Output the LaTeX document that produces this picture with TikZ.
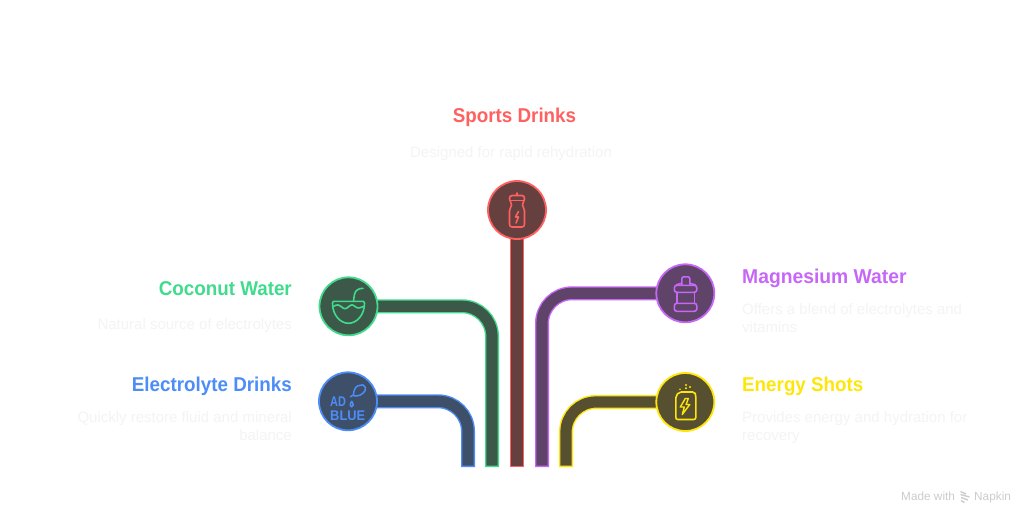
\documentclass[tikz,border=0pt]{standalone}
\usepackage{fontspec}
\setmainfont{Liberation Sans}
\newfontfamily\headfont[FakeStretch=0.94]{Liberation Sans}
\newfontfamily\magfont[FakeStretch=0.965]{Liberation Sans}
\newfontfamily\adfont[FakeStretch=0.78]{Liberation Sans}
\newfontfamily\bluefont[FakeStretch=0.92]{Liberation Sans}
\usetikzlibrary{backgrounds}
\definecolor{cred}{HTML}{FF6060}\definecolor{fred}{HTML}{66403F}
\definecolor{cgreen}{HTML}{41DB8D}\definecolor{fgreen}{HTML}{3C5849}
\definecolor{cblue}{HTML}{4D8DF7}\definecolor{fblue}{HTML}{3E4F69}
\definecolor{cpurple}{HTML}{C767F7}\definecolor{fpurple}{HTML}{5F4369}
\definecolor{cyellow}{HTML}{FFE60A}\definecolor{fyellow}{HTML}{575030}
\definecolor{cdesc}{HTML}{F4F4F4}\definecolor{cmark}{HTML}{CCCCCC}
\tikzset{
  hub/.style={circle,draw=#1,line width=1.8pt,minimum size=58pt,inner sep=0pt},
  pipeout/.style={draw=#1,line width=14pt,rounded corners=30pt},
  pipein/.style={draw=#1,line width=11.2pt,rounded corners=30pt},
  head/.style={text=#1,inner sep=0pt,font=\headfont\fontsize{20}{24}\selectfont\bfseries},
  desc/.style={text=cdesc,inner sep=0pt,font=\fontsize{15}{18}\selectfont},
  wmark/.style={text=cmark,inner sep=0pt,font=\fontsize{11.8}{14}\selectfont},
  icon/.style={draw=#1,line width=1.6pt,line cap=round,line join=round},
}
\begin{document}
\begin{tikzpicture}[x=1pt,y=-1pt]
\useasboundingbox (0,0) rectangle (1034,524);
% hubs
\node[hub=cred,fill=fred] (sports) at (517,210) {};
\node[hub=cgreen,fill=fgreen] (coco) at (348.5,306.3) {};
\node[hub=cblue,fill=fblue] (elec) at (348,401.3) {};
\node[hub=cpurple,fill=fpurple] (magn) at (685.3,293.3) {};
\node[hub=cyellow,fill=fyellow] (ener) at (685.3,402) {};
% free ends of the pipes
\coordinate (endS) at (517,467);\coordinate (innS) at (517,465.6);
\coordinate (endC) at (492,467);\coordinate (innC) at (492,465.6);
\coordinate (endE) at (468,467);\coordinate (innE) at (468,465.6);
\coordinate (endM) at (542,467);\coordinate (innM) at (542,465.6);
\coordinate (endY) at (566,467);\coordinate (innY) at (566,465.6);
\begin{scope}[on background layer]
\fill[white] (0,0) rectangle (1034,524);
\draw[pipeout=cred] (sports.center) -- (endS);
\draw[pipein=fred] (sports.center) -- (innS);
\draw[pipeout=cgreen] (coco.center) -| (endC);
\draw[pipein=fgreen] (coco.center) -| (innC);
\draw[pipeout=cblue] (elec.center) -| (endE);
\draw[pipein=fblue] (elec.center) -| (innE);
\draw[pipeout=cpurple] (magn.center) -| (endM);
\draw[pipein=fpurple] (magn.center) -| (innM);
\draw[pipeout=cyellow] (ener.center) -| (endY);
\draw[pipein=fyellow] (ener.center) -| (innY);
\end{scope}
% texts
\node[head=cred,anchor=base] (t1) at (514.5,123) {Sports Drinks};
\node[desc,anchor=base] (d1) at (511,157.5) {Designed for rapid rehydration};
\node[head=cgreen,anchor=base east] (t2) at (292,295) {Coconut Water};
\node[desc,anchor=base east] (d2) at (292,329.3) {Natural source of electrolytes};
\node[head=cblue,anchor=base east] (t3) at (292,391) {Electrolyte Drinks};
\node[desc,anchor=base east] (d3) at (292,422.5) {Quickly restore fluid and mineral};
\node[desc,anchor=base east] (d3b) at (292,440.5) {balance};
\node[head=cpurple,anchor=base west,font=\magfont\fontsize{20}{24}\selectfont\bfseries] (t4) at (742,283) {Magnesium Water};
\node[desc,anchor=base west] (d4) at (742,314.3) {Offers a blend of electrolytes and};
\node[desc,anchor=base west] (d4b) at (742,332.3) {vitamins};
\node[head=cyellow,anchor=base west] (t5) at (742,391) {Energy Shots};
\node[desc,anchor=base west] (d5) at (742,422.5) {Provides energy and hydration for};
\node[desc,anchor=base west] (d5b) at (742,440.5) {recovery};
% watermark
\node[wmark,anchor=base west] (m1) at (901,500.5) {Made with};
\node[wmark,anchor=base west] (m2) at (974,500.5) {Napkin};
\draw[cmark,line width=1.4pt] (960.5,491.5) -- (966,494) (960.5,494.5) -- (969.5,497) (961,497.5) -- (968,500) (961,500.5) -- (964.5,502.5);
% sports bottle
\begin{scope}[shift={(517,210)},icon=cred]
\draw (0,-17) -- (0,-14.5);
\draw (-5,-14.5) -- (5,-14.5) .. controls (7,-14.5) and (7.5,-13) .. (7.5,-11) .. controls (7.5,-9) and (5.5,-8) .. (5.5,-5) .. controls (5.5,-3) and (7.5,-2) .. (7.5,1) -- (7.5,14) .. controls (7.5,16) and (6.5,17) .. (5,17) -- (-5,17) .. controls (-6.5,17) and (-7.5,16) .. (-7.5,14) -- (-7.5,1) .. controls (-7.5,-2) and (-5.5,-3) .. (-5.5,-5) .. controls (-5.5,-8) and (-7.5,-9) .. (-7.5,-11) .. controls (-7.5,-13) and (-7,-14.5) .. (-5,-14.5) -- cycle;
\draw (-7,-9.5) -- (7,-9.5);
\draw (1.5,1.5) -- (-1.5,7) -- (1.5,7) -- (-1,13);
\end{scope}
% coconut
\begin{scope}[shift={(348.5,306.3)},icon=cgreen]
\draw (-16,-3) .. controls (-16,-5) and (-15,-5) .. (-13,-5) -- (13,-5) .. controls (15,-5) and (16,-5) .. (16,-3) .. controls (16,9) and (8,17) .. (0,17) .. controls (-8,17) and (-16,9) .. (-16,-3) -- cycle;
\draw (-15.5,0.5) .. controls (-12,-2) and (-10,-2) .. (-7,0.5) .. controls (-4,3) and (-3,3) .. (0,0.5) .. controls (3,-2) and (4,-2) .. (7,0.5) .. controls (10,3) and (12,1) .. (15.5,0);
\draw (5,-5.5) -- (6,-12) .. controls (7,-16) and (10,-18) .. (14.5,-18);
\end{scope}
% adblue
\begin{scope}[shift={(348,401.3)}]
\node[text=cblue,inner sep=0pt,anchor=base west,font=\adfont\fontsize{14}{14}\selectfont\bfseries] (ad) at (-18,5.5) {AD};
\node[text=cblue,inner sep=0pt,anchor=base west,font=\bluefont\fontsize{14}{14}\selectfont\bfseries] (blue) at (-18,18.8) {BLUE};
\draw[icon=cblue,line width=1.5pt] (3.7,0) .. controls (1.7,3) and (1.7,5.5) .. (3.7,5.5) .. controls (5.7,5.5) and (5.7,3) .. (3.7,0) -- cycle;
\draw[icon=cblue,line width=1.5pt] (2.5,-4.5) -- (5.5,-6.5) .. controls (5.5,-10) and (7,-14.5) .. (10,-15.5) -- (15,-16.5) .. controls (17.5,-15) and (18.5,-12.5) .. (17,-10.5) .. controls (15,-7) and (10,-4.5) .. (6,-5.5);
\end{scope}
% jug
\begin{scope}[shift={(685.3,293.3)},icon=cpurple]
\draw[rounded corners=2pt] (-3.5,-8.5) -- (-3.5,-16.5) -- (4.5,-16.5) -- (4.5,-8.5);
\draw[rounded corners=2pt] (-3.5,-10) -- (-9,-8.5) (4.5,-10) -- (10,-8.5);
\draw[rounded corners=2.5pt] (-11,-8) rectangle (11.5,-1);
\draw (-8.5,-1) -- (-8.5,10) (9,-1) -- (9,10);
\draw[rounded corners=2.5pt] (-11,10) rectangle (11.5,18);
\end{scope}
% can
\begin{scope}[shift={(685.3,402)},icon=cyellow]
\draw[rounded corners=2pt] (-6,-10) -- (9.5,-10) -- (10.5,-7) -- (10.5,17.5) -- (-9.5,17.5) -- (-9.5,-6) -- cycle;
\draw[line width=1.4pt] (0,-3.5) -- (-5,5) -- (-1,5) -- (-3,12.5) -- (4.5,2.5) -- (0.8,2.5) -- (3,-3.5) -- cycle;
\fill[cyellow] (-5.3,-12.7) circle (0.9pt) (0.7,-17) circle (1.1pt) (0.7,-13.7) circle (1.1pt) (4.7,-15) circle (1.1pt);
\end{scope}
\end{tikzpicture}
\end{document}
